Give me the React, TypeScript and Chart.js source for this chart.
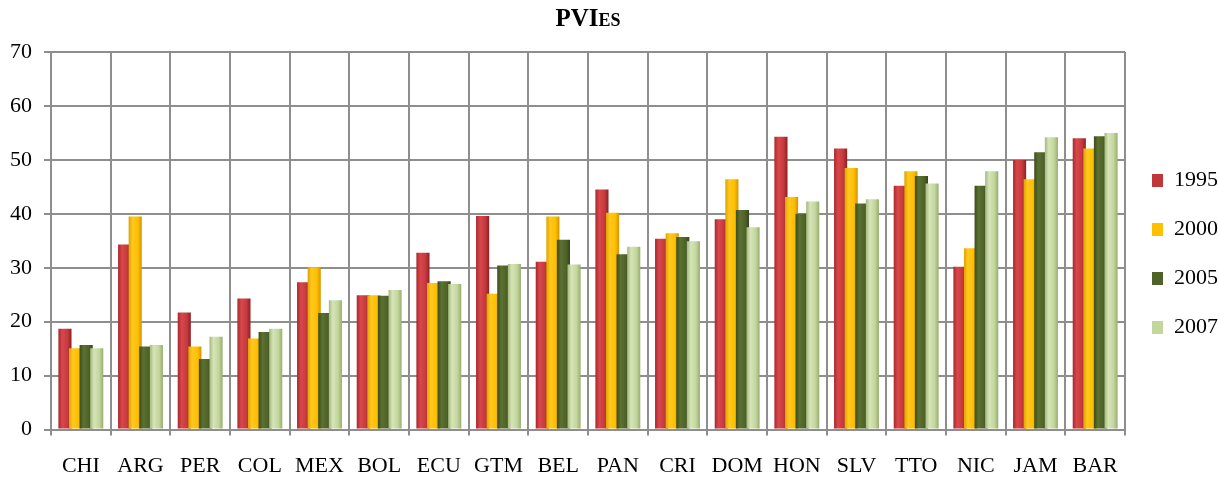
import React, { useEffect, useRef } from 'react';
import { Chart, registerables } from 'chart.js';

Chart.register(...registerables);

const categories = ['CHI', 'ARG', 'PER', 'COL', 'MEX', 'BOL', 'ECU', 'GTM', 'BEL', 'PAN', 'CRI', 'DOM', 'HON', 'SLV', 'TTO', 'NIC', 'JAM', 'BAR'];
const years = ['1995', '2000', '2005', '2007'];
const values1995 = [18.7, 34.3, 21.7, 24.3, 27.3, 24.9, 32.8, 39.6, 31.1, 44.5, 35.4, 39.0, 54.3, 52.1, 45.2, 30.2, 50.0, 54.0];
const values2000 = [15.1, 39.5, 15.4, 16.9, 30.1, 24.9, 27.2, 25.2, 39.5, 40.2, 36.4, 46.4, 43.1, 48.5, 47.9, 33.6, 46.4, 52.1];
const values2005 = [15.7, 15.4, 13.1, 18.1, 21.6, 24.8, 27.5, 30.4, 35.2, 32.5, 35.7, 40.7, 40.0, 41.9, 47.0, 45.2, 51.4, 54.4];
const values2007 = [15.1, 15.7, 17.2, 18.7, 24.0, 25.9, 27.0, 30.7, 30.6, 33.9, 34.9, 37.5, 42.3, 42.7, 45.6, 47.9, 54.2, 55.0];
const yTicks = [0, 10, 20, 30, 40, 50, 60, 70];

const SOLID = ['#c0373b', '#ffc000', '#4f6228', '#c3d69b'];
const STOPS: [number, string][][] = [
  [[0, '#a8282c'], [0.3, '#d9474b'], [0.7, '#c43a3e'], [1, '#8c1f23']],
  [[0, '#e0a200'], [0.3, '#ffc81f'], [0.7, '#ffbf00'], [1, '#d39400']],
  [[0, '#3b4b1b'], [0.3, '#5b7131'], [0.7, '#4f6228'], [1, '#36451a']],
  [[0, '#a3b87c'], [0.3, '#d6e4b8'], [0.7, '#c3d69b'], [1, '#98ad70']],
];

const CAT_PCT = 0.71;
const BAR_PCT = 1.24;
const FAMILY = "'Liberation Serif', 'Times New Roman', serif";
const GRID = '#8e8e8e';

export default function App() {
  const ref = useRef<HTMLCanvasElement>(null);

  useEffect(() => {
    const canvas = ref.current;
    if (!canvas) return;

    const grad = (k: number) => (c: any) => {
      const chart = c.chart;
      const xs = chart.scales ? chart.scales.x : undefined;
      if (!chart.chartArea || !xs || c.dataIndex === undefined || !(xs.width > 0)) return SOLID[k];
      const center = xs.getPixelForValue(c.dataIndex);
      const catW = xs.width / categories.length;
      const slot = (catW * CAT_PCT) / 4;
      const bc = center - 2 * slot + slot * (k + 0.5);
      const bw = slot * BAR_PCT;
      const g = chart.ctx.createLinearGradient(bc - bw / 2, 0, bc + bw / 2, 0);
      STOPS[k].forEach(([o, col]) => g.addColorStop(o, col));
      return g;
    };

    const series = [values1995, values2000, values2005, values2007];

    const orderPlugin = {
      id: 'seriesOrder',
      beforeDatasetsDraw(chart: any) {
        for (let i = 0; i < chart.data.datasets.length; i++) {
          const meta = chart.getDatasetMeta(i);
          if (meta && meta.visible !== false) meta.controller.draw();
        }
        return false;
      },
    };

    const chart = new Chart(canvas, {
      type: 'bar',
      data: {
        labels: categories,
        datasets: years.map((y, k) => ({
          label: y,
          data: series[k],
          backgroundColor: grad(k),
          borderWidth: 0,
          categoryPercentage: CAT_PCT,
          barPercentage: BAR_PCT,
        })),
      },
      options: {
        animation: false,
        responsive: false,
        devicePixelRatio: 1,
        layout: { padding: { left: -2, right: -9, top: 0, bottom: -17 } },
        plugins: {
          tooltip: { enabled: false },
          title: {
            display: true,
            text: 'PVIes',
            fullSize: false,
            color: '#000',
            font: { family: FAMILY, size: 25, weight: 'small-caps bold' as any },
            padding: { top: 5, bottom: 17 },
          },
          legend: {
            position: 'right',
            title: { display: true, text: ' ', font: { size: 10 }, padding: 0 },
            labels: {
              boxWidth: 11,
              boxHeight: 13,
              padding: 27,
              color: '#000',
              font: { family: FAMILY, size: 22 },
              generateLabels: (ch: any) => {
                const items = Chart.defaults.plugins.legend.labels.generateLabels(ch);
                items.forEach((it: any) => {
                  it.fillStyle = SOLID[it.datasetIndex];
                  it.strokeStyle = SOLID[it.datasetIndex];
                  it.lineWidth = 0;
                });
                return items;
              },
            },
          },
        },
        scales: {
          x: {
            grid: { offset: true, color: GRID, lineWidth: 2, tickLength: 6, drawTicks: true },
            border: { color: GRID, width: 2 },
            ticks: { color: '#000', font: { family: FAMILY, size: 22 }, padding: 17, maxRotation: 0, autoSkip: false },
          },
          y: {
            min: yTicks[0],
            max: yTicks[yTicks.length - 1],
            afterBuildTicks: (scale: any) => {
              scale.ticks = yTicks.map((v) => ({ value: v }));
            },
            grid: { color: GRID, lineWidth: 2, tickLength: 7 },
            border: { color: GRID, width: 2 },
            ticks: { color: '#000', font: { family: FAMILY, size: 22 }, padding: 12 },
          },
        },
      },
      plugins: [orderPlugin],
    });

    return () => chart.destroy();
  }, []);

  return (
    <div style={{ position: 'absolute', left: 0, top: 0, width: 1219, height: 479, background: '#fff' }}>
      <canvas ref={ref} width={1219} height={479} style={{ display: 'block', width: 1219, height: 479 }} />
    </div>
  );
}
